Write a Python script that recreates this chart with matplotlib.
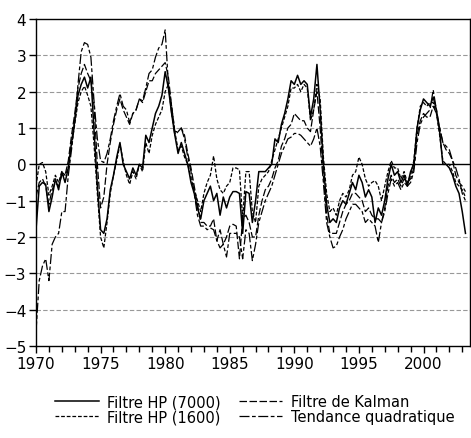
import numpy as np
import matplotlib.pyplot as plt

# Quarterly cycle estimates, 1970Q1 - 2003Q2
start_year = 1970

hp7000 = [
    -1.8, -0.6, -0.5, -0.55,   # 1970
    -1.3, -0.9, -0.4, -0.7,    # 1971
    -0.2, -0.5, -0.1, 0.6,     # 1972
    1.2, 1.9, 2.2, 2.4,        # 1973
    2.1, 2.4, 0.9, -0.6,       # 1974
    -1.8, -1.9, -1.5, -0.7,    # 1975
    -0.3, 0.2, 0.6, 0.0,       # 1976
    -0.2, -0.4, -0.1, -0.3,    # 1977
    0.0, -0.1, 0.8, 0.6,       # 1978
    1.0, 1.4, 1.6, 1.9,        # 1979
    2.55, 2.1, 1.4, 0.8,       # 1980
    0.3, 0.6, 0.3, 0.0,        # 1981
    -0.5, -0.8, -1.2, -1.5,    # 1982
    -1.0, -0.8, -0.6, -1.0,    # 1983
    -0.8, -1.4, -0.9, -1.2,    # 1984
    -0.9, -0.75, -0.75, -0.8,  # 1985
    -1.9, -0.75, -0.8, -1.6,   # 1986
    -1.0, -0.2, -0.2, -0.2,    # 1987
    -0.1, 0.0, 0.7, 0.6,       # 1988
    1.1, 1.4, 1.8, 2.3,        # 1989
    2.2, 2.45, 2.2, 2.3,       # 1990
    2.2, 1.3, 1.8, 2.75,       # 1991
    1.5, 0.0, -1.1, -1.6,      # 1992
    -1.5, -1.6, -1.2, -1.0,    # 1993
    -1.1, -0.8, -0.5, -0.7,    # 1994
    -0.3, -0.5, -0.9, -0.7,    # 1995
    -0.9, -1.6, -1.2, -1.4,    # 1996
    -1.0, -0.4, 0.0, -0.3,     # 1997
    -0.2, -0.5, -0.3, -0.6,    # 1998
    -0.2, 0.0, 1.0, 1.5,       # 1999
    1.8, 1.7, 1.6, 1.85,       # 2000
    1.5, 0.9, 0.0, 0.0,        # 2001
    -0.1, -0.3, -0.6, -0.8,    # 2002
    -1.3, -1.9,                # 2003
]

hp1600 = [
    -0.6, 0.0, 0.05, -0.2,
    -0.85, -0.6, -0.3, -0.5,
    -0.2, -0.3, -0.1, 0.5,
    1.1, 1.7, 2.0, 2.15,
    1.9, 1.6, 0.5, -0.8,
    -2.0, -2.3, -1.6, -0.8,
    -0.3, 0.1, 0.55, 0.1,
    -0.3, -0.55, -0.2, -0.4,
    0.0, -0.2, 0.6, 0.3,
    0.8, 1.1, 1.3, 1.5,
    2.0, 2.2, 1.6, 0.9,
    0.4, 0.5, 0.2, 0.0,
    -0.4, -0.7, -1.0, -1.3,
    -0.8, -0.5, -0.3, 0.23,
    -0.4, -0.7, -0.8, -0.6,
    -0.5, -0.1, -0.1, -0.15,
    -1.5, -0.2, -0.2, -1.3,
    -1.6, -0.6, -0.4, -0.3,
    -0.2, 0.1, 0.4, 0.7,
    1.0, 1.3, 1.6, 2.1,
    2.1, 2.2, 2.0, 2.2,
    2.1, 1.2, 1.5, 2.2,
    1.8, 0.2, -0.8, -1.3,
    -1.2, -1.4, -1.0, -0.8,
    -0.9, -0.7, -0.3, -0.2,
    0.2, 0.0, -0.4, -0.6,
    -0.5, -0.45, -0.6, -1.0,
    -0.6, -0.2, 0.1, -0.1,
    -0.1, -0.4, -0.2, -0.5,
    -0.3, 0.1, 1.0, 1.6,
    1.7, 1.6, 1.7, 1.7,
    1.4, 0.8, 0.1, 0.0,
    0.0, -0.2, -0.5, -0.6,
    -0.7, -0.9,
]

kalman = [
    -0.9, -0.5, -0.4, -0.6,
    -1.1, -0.7, -0.5, -0.6,
    -0.3, -0.3, 0.1, 0.8,
    1.4, 2.1, 2.5, 2.75,
    2.5, 2.3, 1.6, 0.0,
    -1.2, -0.9, 0.0, 0.6,
    1.1, 1.5, 1.8, 1.5,
    1.3, 1.1, 1.4, 1.5,
    1.8, 1.7, 2.0, 2.3,
    2.3, 2.5, 2.6, 2.7,
    2.8, 2.4, 1.6, 0.9,
    0.9, 1.0, 0.8, 0.3,
    -0.1, -0.6, -1.1, -1.6,
    -1.6, -1.7, -1.7, -1.5,
    -2.1, -1.8, -2.2, -2.0,
    -1.7, -1.65, -1.7, -2.6,
    -1.5, -1.4, -1.6, -2.0,
    -2.0, -1.4, -1.0, -0.7,
    -0.6, -0.4, -0.1, 0.1,
    0.5, 0.7, 1.0, 1.1,
    1.4, 1.3, 1.2, 1.2,
    1.0, 0.9, 1.5, 2.0,
    1.0, -0.3, -1.4, -1.9,
    -1.9, -1.9, -1.6, -1.3,
    -1.1, -1.0, -0.8, -0.8,
    -0.9, -1.0, -1.3, -1.2,
    -1.4, -1.5, -1.5, -1.6,
    -1.2, -0.6, -0.3, -0.5,
    -0.4, -0.6, -0.4, -0.5,
    -0.4, -0.1, 0.8, 1.2,
    1.4, 1.3, 1.3, 1.6,
    1.4, 1.0, 0.6, 0.4,
    0.3, 0.1, -0.3, -0.5,
    -0.6, -0.75,
]

quadratic = [
    -4.6, -3.2, -2.8, -2.6,
    -3.2, -2.2, -2.0, -1.9,
    -1.3, -1.3, -0.3, 0.4,
    1.2, 2.2, 3.1, 3.35,
    3.3, 2.95, 1.7, 0.7,
    0.1, 0.05, 0.3, 0.7,
    1.2, 1.6, 1.95, 1.6,
    1.5, 1.15, 1.4, 1.5,
    1.8, 1.75, 2.1, 2.5,
    2.6, 2.95, 3.2, 3.3,
    3.7, 2.2, 1.4, 0.8,
    0.9, 1.0, 0.7, 0.2,
    -0.2, -0.8, -1.4, -1.7,
    -1.7, -1.8, -1.75, -1.8,
    -2.1, -2.3, -2.2, -2.55,
    -1.9, -1.9, -1.9, -2.0,
    -2.6, -1.8, -1.9, -2.65,
    -2.2, -1.6, -1.3, -1.0,
    -0.8, -0.6, -0.3, 0.0,
    0.3, 0.5, 0.7, 0.75,
    0.85, 0.85, 0.8, 0.7,
    0.6, 0.5, 0.7, 1.0,
    0.5, -0.5, -1.6, -2.0,
    -2.3, -2.25, -2.0, -1.8,
    -1.5, -1.3, -1.1, -1.1,
    -1.2, -1.3, -1.6, -1.5,
    -1.6, -1.7, -2.15, -1.6,
    -1.3, -0.8, -0.4, -0.6,
    -0.5, -0.7, -0.5, -0.6,
    -0.5, -0.2, 0.6, 1.1,
    1.3, 1.4, 1.5, 2.05,
    1.5, 1.0, 0.6, 0.5,
    0.4, 0.1, -0.1, -0.4,
    -0.8, -1.0,
]

labels = ['Filtre HP (7000)', 'Filtre HP (1600)', 'Filtre de Kalman', 'Tendance quadratique']

t = start_year + np.arange(len(hp7000)) / 4.0

plt.rcParams['font.family'] = ['DejaVu Sans']

fig = plt.figure(figsize=(4.71, 4.39), dpi=100)
ax = fig.add_axes([36 / 471, 1 - 347 / 439, 434 / 471, 327 / 439])

# grid lines and zero line
for v in range(-4, 4):
    if v == 0:
        ax.axhline(0, color='black', lw=1.0, zorder=1)
    else:
        ax.axhline(v, color='0.6', lw=0.8, dashes=(4, 2), zorder=1)

ax.plot(t, hp7000, color='black', lw=1.1, label=labels[0], zorder=3)
ax.plot(t, hp1600, color='black', lw=0.9, dashes=(3, 1.5), label=labels[1], zorder=3)
ax.plot(t, kalman, color='black', lw=0.9, dashes=(6, 2), label=labels[2], zorder=3)
ax.plot(t, quadratic, color='black', lw=0.9, dashes=(8, 2, 3, 2), label=labels[3], zorder=3)

ax.set_xlim(1970, 2003.6)
ax.set_ylim(-5, 4)
ax.set_yticks(range(-5, 5))
ax.set_xticks(range(1970, 2001, 5))
ax.set_xticks(range(1970, 2004), minor=True)
ax.tick_params(direction='out', length=5, width=1, labelsize=11, pad=2)
ax.tick_params(which='minor', direction='out', length=4, width=1)
for s in ax.spines.values():
    s.set_linewidth(1.0)

fig.legend(loc='center', bbox_to_anchor=(0.541, 0.066), ncol=2, frameon=False,
           fontsize=10.5, handlelength=3.0, handletextpad=0.6, columnspacing=1.2,
           labelspacing=0.0, borderpad=0)

fig.savefig('out.png', dpi=100)
